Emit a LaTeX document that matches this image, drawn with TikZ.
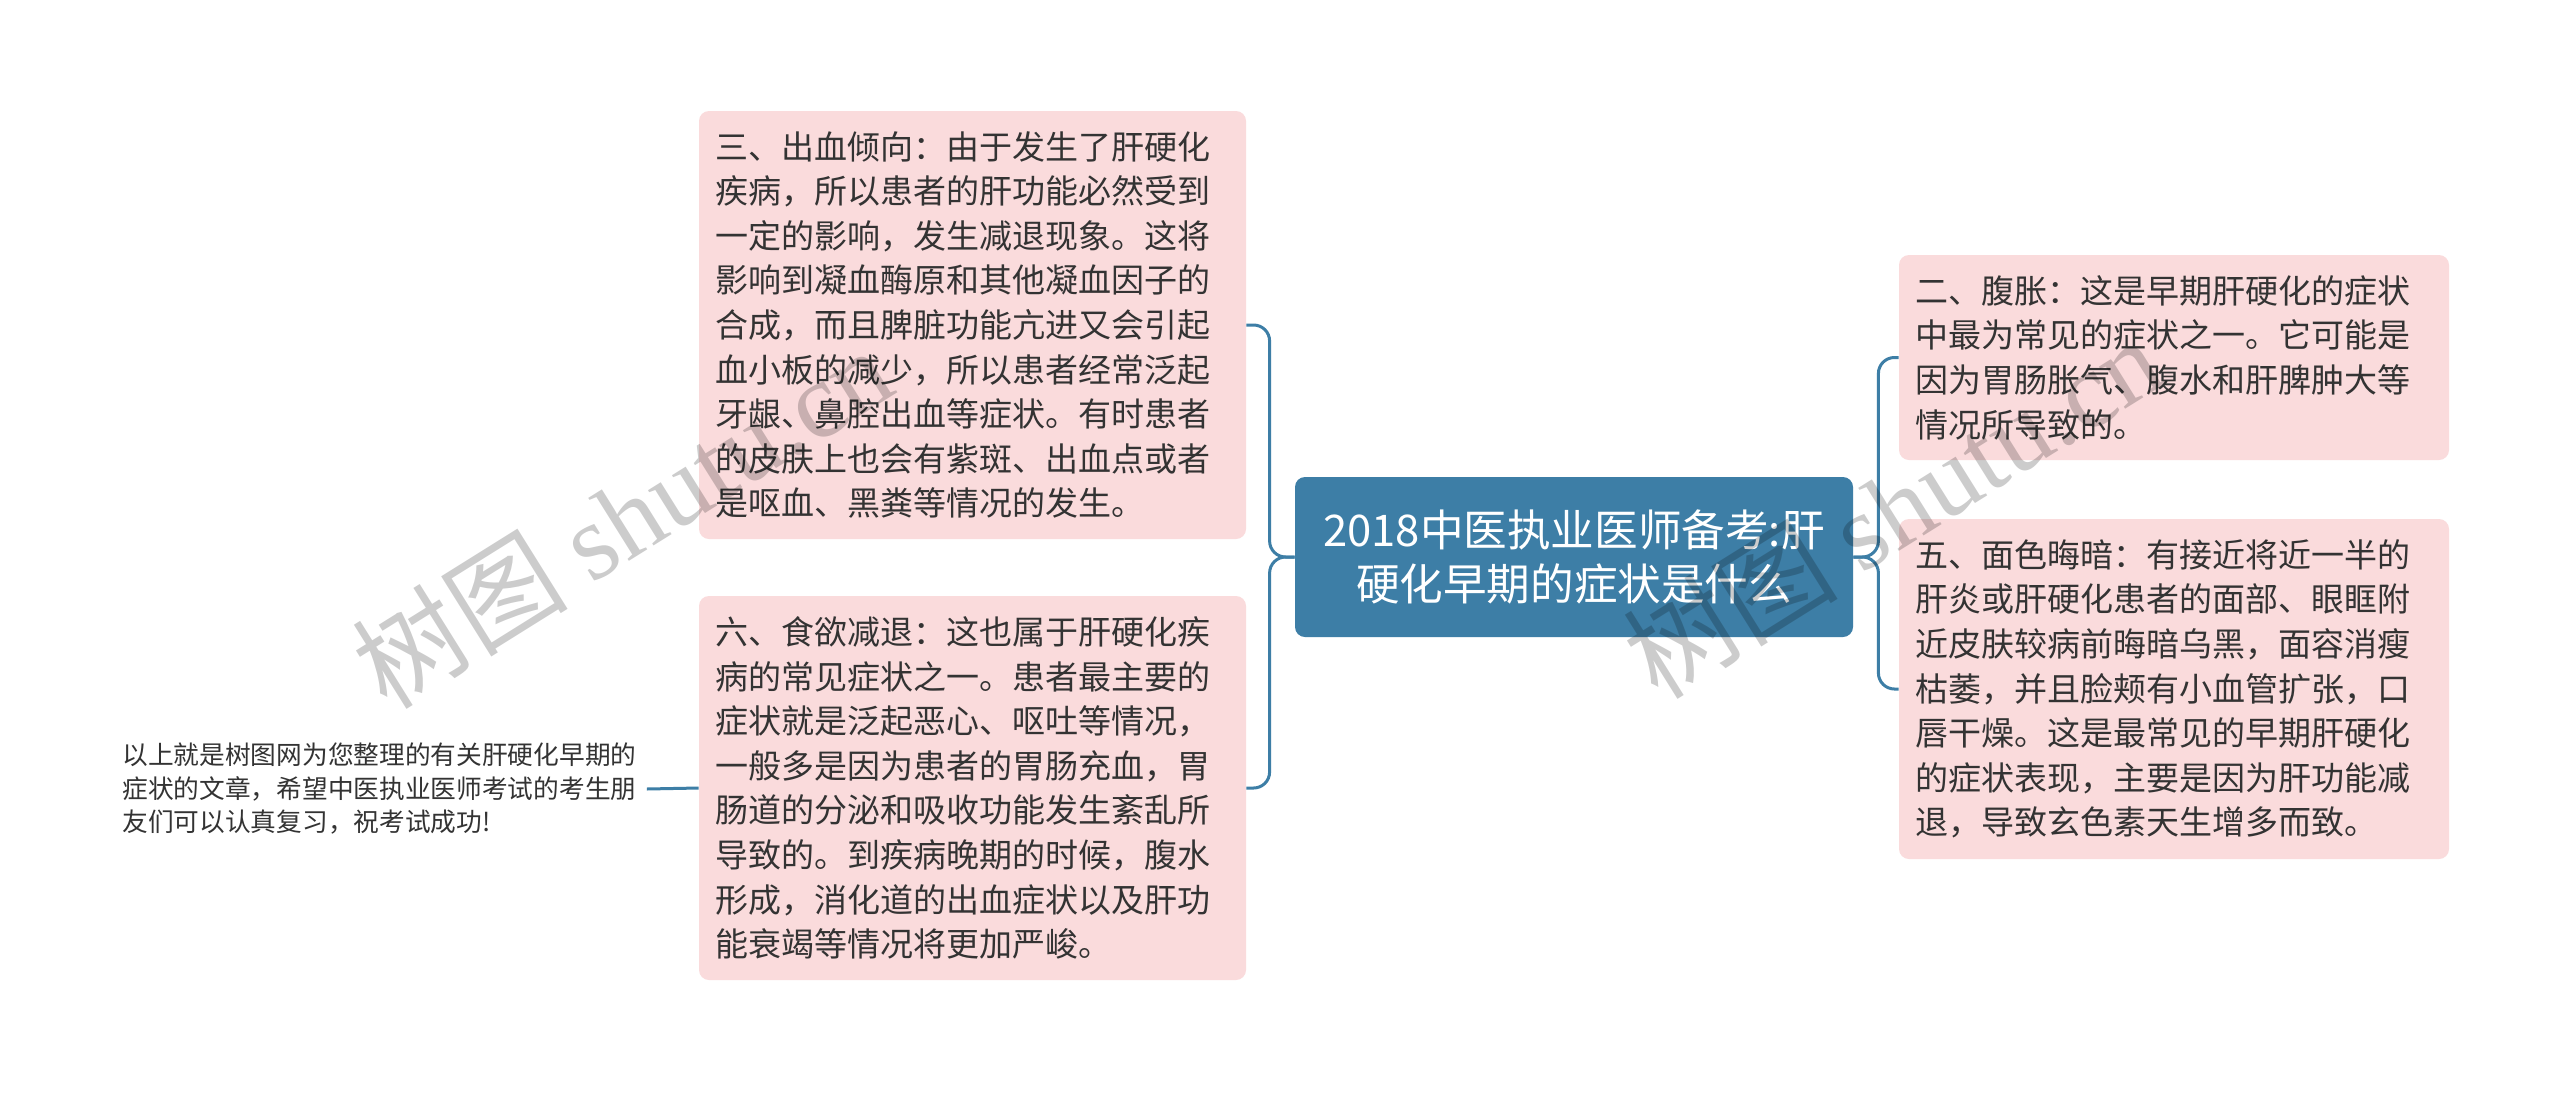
\documentclass[tikz,border=0pt]{standalone}
\usepackage{fontspec}
\setmainfont{Noto Sans CJK SC}
\newfontfamily\wmlatin{Liberation Serif}
\usetikzlibrary{calc}
\definecolor{rootblue}{HTML}{3D7EA6}
\definecolor{boxpink}{HTML}{FADBDC}
\definecolor{txtcol}{HTML}{333333}
\begin{document}
\begin{tikzpicture}[x=0.5pt,y=-0.5pt,
  pinkbox/.style={draw=none, fill=boxpink, rounded corners=5pt, inner xsep=8pt,
    align=left, text=txtcol, font=\fontsize{16.5}{22.3}\selectfont},
  rootbox/.style={draw=none, fill=rootblue, rounded corners=5pt, align=center,
    text=white, font=\fontsize{21.8}{27}\selectfont},
  conn/.style={draw=rootblue, line width=1.5pt, rounded corners=8pt},
  watermark/.style={text=black, opacity=0.2, rotate=32, inner sep=0pt,
    font=\fontsize{54}{54}\selectfont}]
\fill[white] (0,0) rectangle (2560,1093);
\useasboundingbox (0,0) rectangle (2560,1093);

\node[rootbox, minimum width=279pt, minimum height=80pt] (root) at (1574,557)
  {2018中医执业医师备考:肝\\硬化早期的症状是什么};

\node[pinkbox, text width=257.5pt, minimum height=214pt] (b3) at (972.5,325)
  {三、出血倾向：由于发生了肝硬化\\疾病，所以患者的肝功能必然受到\\一定的影响，发生减退现象。这将\\影响到凝血酶原和其他凝血因子的\\合成，而且脾脏功能亢进又会引起\\血小板的减少，所以患者经常泛起\\牙龈、鼻腔出血等症状。有时患者\\的皮肤上也会有紫斑、出血点或者\\是呕血、黑粪等情况的发生。};

\node[pinkbox, text width=257.5pt, minimum height=192pt] (b6) at (972.5,788)
  {六、食欲减退：这也属于肝硬化疾\\病的常见症状之一。患者最主要的\\症状就是泛起恶心、呕吐等情况，\\一般多是因为患者的胃肠充血，胃\\肠道的分泌和吸收功能发生紊乱所\\导致的。到疾病晚期的时候，腹水\\形成，消化道的出血症状以及肝功\\能衰竭等情况将更加严峻。};

\node[pinkbox, text width=259pt, minimum height=102.5pt] (b2) at (2174,357.5)
  {二、腹胀：这是早期肝硬化的症状\\中最为常见的症状之一。它可能是\\因为胃肠胀气、腹水和肝脾肿大等\\情况所导致的。};

\node[pinkbox, text width=259pt, minimum height=170pt] (b5) at (2174,689)
  {五、面色晦暗：有接近将近一半的\\肝炎或肝硬化患者的面部、眼眶附\\近皮肤较病前晦暗乌黑，面容消瘦\\枯萎，并且脸颊有小血管扩张，口\\唇干燥。这是最常见的早期肝硬化\\的症状表现，主要是因为肝功能减\\退，导致玄色素天生增多而致。};

\node[anchor=west, inner xsep=5pt, inner ysep=0pt, align=left, text=txtcol,
  font=\fontsize{12.85}{16.75}\selectfont] (fin) at (112,789)
  {以上就是树图网为您整理的有关肝硬化早期的\\症状的文章，希望中医执业医师考试的考生朋\\友们可以认真复习，祝考试成功!};

\draw[conn] (root.west) -- ($(root.west)+(-25,0)$) |- (b3.east);
\draw[conn] (root.west) -- ($(root.west)+(-25,0)$) |- (b6.east);
\draw[conn] (root.east) -- ($(root.east)+(25,0)$) |- (b2.west);
\draw[conn] (root.east) -- ($(root.east)+(25,0)$) |- (b5.west);
\draw[conn] (b6.west) -- (fin.east);

\node[watermark] (wm1) at (622,517) {树图 {\wmlatin shutu.cn}};
\node[watermark] (wm2) at (1892,507) {树图 {\wmlatin shutu.cn}};
\end{tikzpicture}
\end{document}
